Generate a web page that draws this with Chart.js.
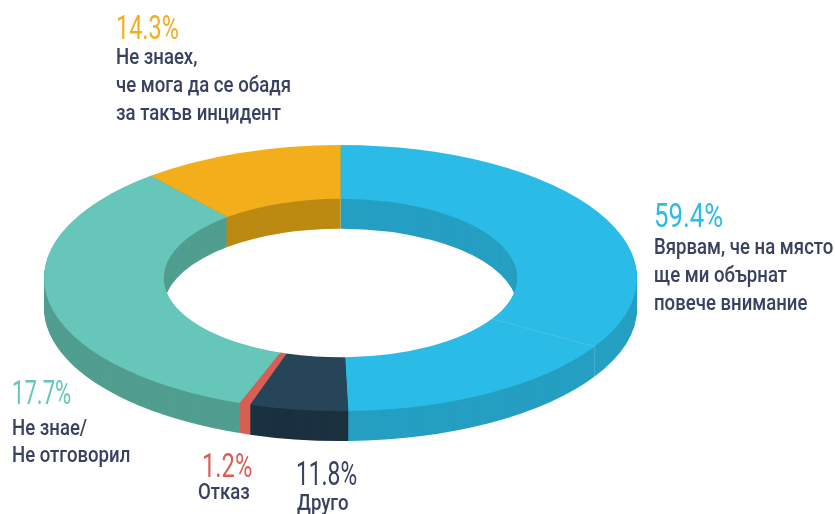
<!DOCTYPE html>
<html lang="bg">
<head>
<meta charset="utf-8">
<title>Donut</title>
<script src="https://cdn.jsdelivr.net/npm/chart.js@4"></script>
<style>
  html, body { margin: 0; padding: 0; background: #fff; overflow: hidden; }
  #wrap { position: relative; width: 835px; height: 514px; }
  #chartCanvas { position: absolute; left: 0; top: 0; }
  .txt {
    position: absolute;
    white-space: nowrap;
    transform-origin: left center;
    font-family: Roboto, sans-serif;
    line-height: 1;
  }
  .line { font-size: 22px; font-weight: 500; color: #38415f; }
  .pct { font-size: 33px; font-weight: 400; }
</style>
</head>
<body>
<div id="wrap">
  <canvas id="chartCanvas" width="835" height="514"></canvas>
</div>
<script>
// slice spans in degrees. the printed percentages
// add up to 104.4 and the artwork does not follow them, so the two are kept apart.
// blue comes in two pieces because the artwork has a seam in it
const sliceDegrees = [121, 57.5, 19.3, 2.1, 120.3, 39.8];
const sliceColors = ['#2abbe6', '#2abbe6', '#274558', '#d95f54', '#66c6b9', '#f3ae1b'];
const wallColors = ['#259fc2', '#259fc2', '#1b3140', '#d95f54', '#519e90', '#bc8a12'];

const percents = ['59.4%', '14.3%', '17.7%', '1.2%', '11.8%'];
const percentColors = ['#2abbe6', '#f3ae1b', '#66c6b9', '#d95f54', '#38415f'];
const captions = [
  ['Вярвам, че на място', 'ще ми обърнат', 'повече внимание'],
  ['Не знаех,', 'че мога да се обадя', 'за такъв инцидент'],
  ['Не знае/', 'Не отговорил'],
  ['Отказ'],
  ['Друго']
];

// where the labels sit: [x, y of percent, x of caption, y of each caption line]
const labelSpots = [
  [654, 215, 654, [247, 275, 303]],
  [116, 27, 116, [57, 85, 113]],
  [12, 392, 12, [428, 455]],
  [202, 465, 198, [492]],
  [296, 473, 297, [503]]
];
// roboto is wider than the artwork's font, digits 1 and 7 even more so
const percentStretch = [0.78, 0.71, 0.67, 0.72, 0.69];
const captionStretch = 0.845;

// the flat ellipse of the ring on screen
const centerX = 340.5, centerY = 278, radiusX = 296.5, radiusY = 133, depth = 30;
const cutout = 59.6;

function tilt(ctx, arc, offset) {
  ctx.translate(centerX, centerY + offset);
  ctx.scale(radiusX / arc.outerRadius, radiusY / arc.outerRadius);
  ctx.translate(-arc.x, -arc.y);
}

function ringPath(ctx, arc) {
  ctx.beginPath();
  ctx.arc(arc.x, arc.y, arc.outerRadius, arc.startAngle, arc.endAngle);
  ctx.arc(arc.x, arc.y, arc.innerRadius, arc.endAngle, arc.startAngle, true);
  ctx.closePath();
}

function screenPoint(arc, radius, angle) {
  const k = radiusX / arc.outerRadius, m = radiusY / arc.outerRadius;
  return [centerX + Math.cos(angle) * radius * k, centerY + Math.sin(angle) * radius * m];
}

const ringPlugin = {
  id: 'ring3d',
  beforeDatasetsDraw(chart) {
    const ctx = chart.ctx;
    const arcs = chart.getDatasetMeta(0).data;
    // stacked darker copies, deepest first, make both the walls
    for (let d = depth; d >= 1; d--) {
      arcs.forEach((arc, i) => {
        ctx.save();
        tilt(ctx, arc, d);
        ringPath(ctx, arc);
        ctx.fillStyle = wallColors[i];
        ctx.fill();
        ctx.restore();
      });
    }
    ctx.save();
    tilt(ctx, arcs[0], 0);
  },
  afterDatasetsDraw(chart) {
    const ctx = chart.ctx;
    ctx.restore();
    const arcs = chart.getDatasetMeta(0).data;
    ctx.save();
    ctx.lineWidth = 1;
    // seam inside the blue part
    const seam = arcs[1];
    const a = screenPoint(seam, seam.innerRadius, seam.startAngle);
    const b = screenPoint(seam, seam.outerRadius, seam.startAngle);
    ctx.strokeStyle = 'rgba(255,255,255,0.16)';
    ctx.beginPath();
    ctx.moveTo(a[0], a[1]);
    ctx.lineTo(b[0], b[1]);
    ctx.moveTo(b[0], b[1]);
    ctx.lineTo(b[0], b[1] + depth);
    ctx.stroke();
    // seam on the inner wall where yellow meets blue
    const top = screenPoint(arcs[0], arcs[0].innerRadius, arcs[0].startAngle);
    ctx.strokeStyle = 'rgba(255,255,255,0.25)';
    ctx.beginPath();
    ctx.moveTo(top[0], top[1]);
    ctx.lineTo(top[0], top[1] + depth);
    ctx.stroke();
    ctx.restore();
  }
};

new Chart(document.getElementById('chartCanvas').getContext('2d'), {
  type: 'doughnut',
  data: {
    labels: sliceDegrees.map((v, i) => 'slice ' + (i + 1)),
    datasets: [{
      data: sliceDegrees,
      backgroundColor: sliceColors,
      borderWidth: 0,
      clip: false
    }]
  },
  options: {
    responsive: false,
    animation: false,
    cutout: cutout + '%',
    events: [],
    plugins: { legend: { display: false }, tooltip: { enabled: false } }
  },
  plugins: [ringPlugin]
});

const wrap = document.getElementById('wrap');
function addText(cls, text, x, y, color, stretch) {
  const el = document.createElement('div');
  el.className = 'txt ' + cls;
  el.textContent = text;
  el.style.left = x + 'px';
  el.style.top = y + 'px';
  el.style.transform = 'translateY(-50%) scaleX(' + stretch + ')';
  if (color) el.style.color = color;
  wrap.appendChild(el);
}
percents.forEach((p, i) => {
  const spot = labelSpots[i];
  addText('pct', p, spot[0], spot[1], percentColors[i], percentStretch[i]);
  captions[i].forEach((line, j) => addText('line', line, spot[2], spot[3][j], null, captionStretch));
});
</script>
</body>
</html>
